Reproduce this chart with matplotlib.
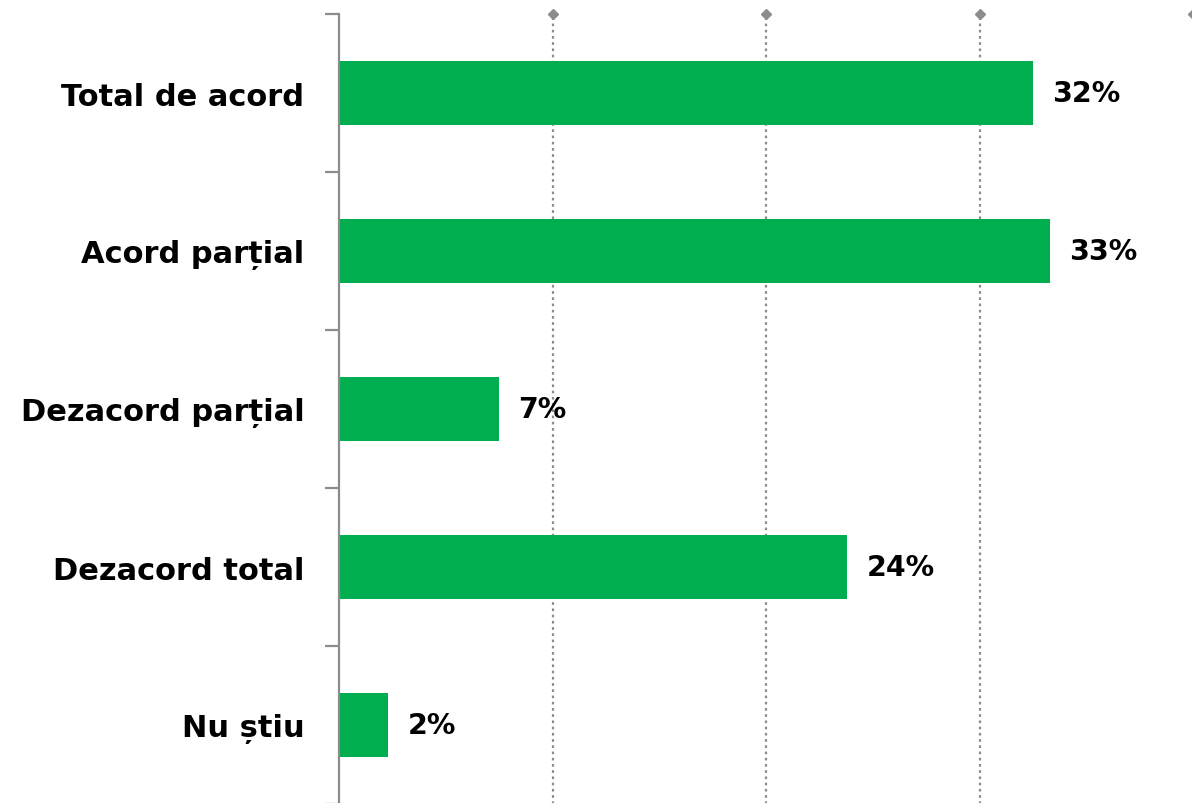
import matplotlib.pyplot as plt

# Data
categories = ["Total de acord", "Acord parțial", "Dezacord parțial", "Dezacord total", "Nu știu"]
values = [32.5, 33.3, 7.5, 23.8, 2.3]
value_labels = ["32%", "33%", "7%", "24%", "2%"]
grid_values = [10, 20, 30, 40]

bar_color = "#00AE50"
axis_grey = "#8C8C8C"

plt.rcParams["font.family"] = ["DejaVu Sans"]

fig = plt.figure(figsize=(11.92, 8.04), dpi=100)
ax = fig.add_axes([339 / 1192, -1 / 804, 854 / 1192, 790 / 804])

y = list(range(len(categories)))
ax.barh(y, values, height=0.4, color=bar_color, zorder=3)

ax.set_xlim(0, 40)
ax.set_ylim(4.5, -0.5)

# dotted vertical gridlines with diamond caps at the top
for g in grid_values:
    ax.axvline(g, color=axis_grey, linestyle=(0, (1.2, 1.6)), linewidth=1.6, zorder=1)
    ax.plot(g, -0.5, marker="D", markersize=5, color=axis_grey, clip_on=False, zorder=4)

# value labels
for yi, v, lab in zip(y, values, value_labels):
    ax.text(v + 0.9, yi, lab, va="center", ha="left", fontsize=20.5, fontweight="bold", color="black")

# y axis: labels at centres, tick marks at band boundaries
ax.set_yticks(y)
ax.set_yticklabels(categories, fontsize=22, fontweight="bold")
ax.tick_params(axis="y", which="major", length=0, pad=25)
ax.set_yticks([i - 0.5 for i in range(len(categories) + 1)], minor=True)
ax.tick_params(axis="y", which="minor", length=10, width=1.6, color=axis_grey)

ax.set_xticks([])
for side in ["top", "right", "bottom"]:
    ax.spines[side].set_visible(False)
ax.spines["left"].set_color(axis_grey)
ax.spines["left"].set_linewidth(1.6)
ax.spines["left"].set_zorder(5)

fig.savefig("out.png", dpi=100)
